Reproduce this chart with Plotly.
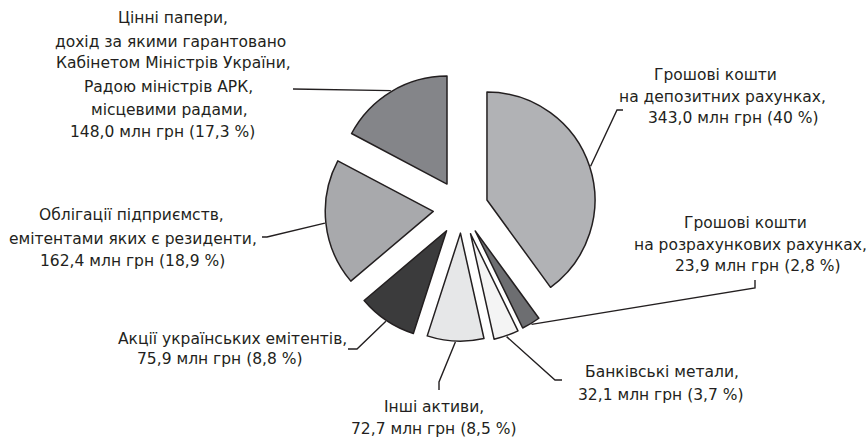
import math
import plotly.graph_objects as go

# ---------------- data ----------------
categories = [
    "Грошові кошти на депозитних рахунках",
    "Грошові кошти на розрахункових рахунках",
    "Банківські метали",
    "Інші активи",
    "Акції українських емітентів",
    "Облігації підприємств, емітентами яких є резиденти",
    "Цінні папери, дохід за якими гарантовано КМУ, Радою міністрів АРК, місцевими радами",
]
values_mln = [343.0, 23.9, 32.1, 72.7, 75.9, 162.4, 148.0]
percents = [40, 2.8, 3.7, 8.5, 8.8, 18.9, 17.3]
name_lines = [
    ["Грошові кошти", "на депозитних рахунках,"],
    ["Грошові кошти", "на розрахункових рахунках,"],
    ["Банківські метали,"],
    ["Інші активи,"],
    ["Акції українських емітентів,"],
    ["Облігації підприємств,", "емітентами яких є резиденти,"],
    ["Цінні папери,", "дохід за якими гарантовано", "Кабінетом Міністрів України,",
     "Радою міністрів АРК,", "місцевими радами,"],
]

# ---------------- style / layout ----------------
W, H = 867, 439
CX, CY, R = 461.6, 208.3, 108.0
pull = [0.247, 0.245, 0.25, 0.23, 0.25, 0.264, 0.262]
colors = ["#b1b2b5", "#6d6e71", "#f4f4f4", "#e6e7e8", "#3b3b3c", "#a8a9ac", "#848589"]
edge = "#231f20"
font_family = "DejaVu Sans"
font_size = 15.5

# leader-line elbow and end points (px)
elbows = [(617, 110), (755, 288), (555, 380), (439, 382), (357, 349), (267, 237), (293, 89)]
ends = [(623, 110), (755, 280), (562, 380), (439, 390), (348, 349), (262, 237), (293, 89)]

# text line positions (px centers) for each label
line_pos = [
    [(715, 75), (722, 97), (733, 118)],
    [(745, 223), (750, 245), (758, 266)],
    [(662, 372), (661, 395)],
    [(434, 407), (434, 429)],
    [(232, 339), (220, 359)],
    [(131, 215), (133, 239), (132, 261)],
    [(173, 18), (170, 42), (173, 63), (168, 87), (169, 110), (162, 132)],
]


def fmt_num(v):
    return f"{v:.1f}".replace(".", ",")


def fmt_pct(p):
    if float(p).is_integer():
        return f"{int(p)}"
    return f"{p:.1f}".replace(".", ",")


maxpull = max(pull)
box = 2 * R * (1 + maxpull)
dx = box / 2 / W
dy = box / 2 / H
xc = CX / W
yc = 1 - CY / H

fig = go.Figure()
fig.add_trace(go.Pie(
    labels=categories, values=values_mln, sort=False, direction="clockwise",
    rotation=0, pull=pull, textinfo="none", hoverinfo="label+value+percent",
    marker=dict(colors=colors, line=dict(color=edge, width=1.5)),
    domain=dict(x=[xc - dx, xc + dx], y=[yc - dy, yc + dy]),
    showlegend=False,
))

total = sum(values_mln)
cum = 0.0
annotations = []
for i, v in enumerate(values_mln):
    mid = 2 * math.pi * (cum + v / 2) / total
    cum += v
    ux, uy = math.sin(mid), -math.cos(mid)
    rr = R * (1 + pull[i]) + 1
    ax, ay = CX + rr * ux, CY + rr * uy
    xs = [ax, elbows[i][0], ends[i][0]]
    ys = [ay, elbows[i][1], ends[i][1]]
    fig.add_trace(go.Scatter(x=xs, y=ys, mode="lines", line=dict(color=edge, width=1.4),
                             hoverinfo="skip", showlegend=False))
    lines = name_lines[i] + [f"{fmt_num(v)} млн грн ({fmt_pct(percents[i])} %)"]
    for txt, (px, py) in zip(lines, line_pos[i]):
        annotations.append(dict(x=px, y=py, xref="x", yref="y", text=txt, showarrow=False,
                                xanchor="center", yanchor="middle",
                                font=dict(family=font_family, size=font_size, color=edge)))

fig.update_layout(
    width=W, height=H, margin=dict(l=0, r=0, t=0, b=0),
    paper_bgcolor="white", plot_bgcolor="white",
    xaxis=dict(range=[0, W], visible=False, domain=[0, 1], fixedrange=True),
    yaxis=dict(range=[H, 0], visible=False, domain=[0, 1], fixedrange=True),
    annotations=annotations,
)

fig.write_html("out.html", config={"displayModeBar": False},
               post_script="document.body.style.margin='0';document.body.style.overflow='hidden';")
